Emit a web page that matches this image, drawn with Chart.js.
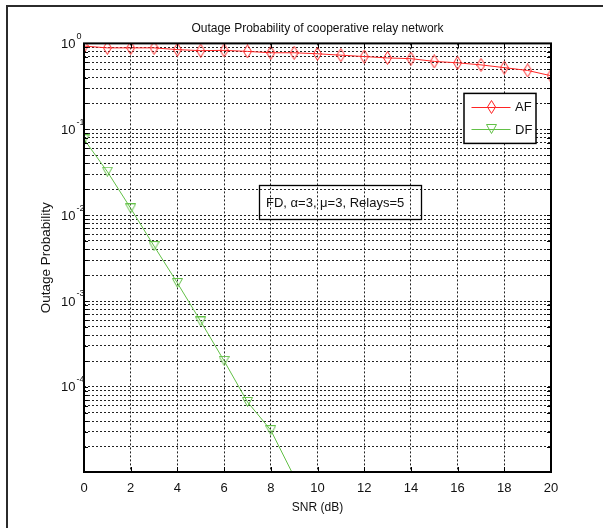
<!DOCTYPE html>
<html>
<head>
<meta charset="utf-8">
<script src="https://cdn.jsdelivr.net/npm/chart.js@4.4.0/dist/chart.umd.min.js"></script>
<style>
  html, body { margin: 0; padding: 0; background: #fff; }
</style>
</head>
<body>
<canvas id="myChart" width="603" height="528"></canvas>
<script>
// values
const snr = [0, 1, 2, 3, 4, 5, 6, 7, 8, 9, 10, 11, 12, 13, 14, 15, 16, 17, 18, 19, 20];
const afValues = [0.93, 0.887, 0.887, 0.887, 0.846, 0.823, 0.83, 0.807, 0.778, 0.778, 0.757,
  0.729, 0.703, 0.677, 0.664, 0.617, 0.594, 0.562, 0.522, 0.484, 0.42];
const dfValues = [0.0764, 0.0321, 0.012, 0.00436, 0.00162, 0.000578, 0.000201, 0.0000668, 0.0000313, 0.000009];
const seriesNames = ['AF', 'DF'];
const yDecades = [1, 0.1, 0.01, 0.001, 0.0001];
const yExponents = ['0', '-1', '-2', '-3', '-4'];
const noteText = 'FD, \u03b1=3, \u03bc=3, Relays=5';
const titleText = 'Outage Probability of cooperative relay network';

const FONT = "'Liberation Sans', Arial, sans-serif";
const afColor = '#ff2424';
const dfColor = '#62c046';

function diamondMarker(color) {
  const c = document.createElement('canvas');
  c.width = 9; c.height = 14;
  const g = c.getContext('2d');
  g.strokeStyle = color;
  g.lineWidth = 1;
  g.beginPath();
  g.moveTo(4.5, 0.5); g.lineTo(8.5, 7); g.lineTo(4.5, 13.5); g.lineTo(0.5, 7);
  g.closePath();
  g.stroke();
  return c;
}

function triangleMarker(color) {
  const c = document.createElement('canvas');
  c.width = 11; c.height = 10;
  const g = c.getContext('2d');
  g.strokeStyle = color;
  g.lineWidth = 1;
  g.beginPath();
  g.moveTo(0.5, 0.5); g.lineTo(10.5, 0.5); g.lineTo(5.5, 9.5);
  g.closePath();
  g.stroke();
  return c;
}

const afMarker = diamondMarker(afColor);
const dfMarker = triangleMarker(dfColor);

function yGridValues(min, max) {
  const out = [];
  for (let e = -6; e <= 0; e++) {
    for (let m = 1; m <= 9; m++) {
      const v = m * Math.pow(10, e);
      if (v >= min * 0.999 && v <= max * 1.0001) out.push({ value: v });
    }
  }
  return out;
}

const decorations = {
  id: 'decorations',
  beforeDraw(chart) {
    const ctx = chart.ctx;
    ctx.save();
    ctx.fillStyle = '#fff';
    ctx.fillRect(0, 0, chart.width, chart.height);
    // figure frame (only left and top visible)
    ctx.fillStyle = '#2b2b2b';
    ctx.fillRect(6, 5, 2, chart.height - 5);
    ctx.fillRect(6, 5, chart.width - 6, 2);
    ctx.restore();
  },
  afterDraw(chart) {
    const ctx = chart.ctx;
    const area = chart.chartArea;
    const xs = chart.scales.x;
    const ys = chart.scales.y;
    ctx.save();

    // inward tick marks
    ctx.strokeStyle = '#000';
    ctx.lineWidth = 1;
    ctx.beginPath();
    xs.ticks.forEach(t => {
      const px = Math.round(xs.getPixelForValue(t.value)) + 0.5;
      ctx.moveTo(px, area.bottom); ctx.lineTo(px, area.bottom - 5);
      ctx.moveTo(px, area.top); ctx.lineTo(px, area.top + 5);
    });
    ys.ticks.forEach(t => {
      const py = Math.round(ys.getPixelForValue(t.value)) + 0.5;
      ctx.moveTo(area.left, py); ctx.lineTo(area.left + 4, py);
      ctx.moveTo(area.right, py); ctx.lineTo(area.right - 4, py);
    });
    ctx.stroke();

    // axes box
    ctx.lineWidth = 2;
    ctx.strokeRect(area.left, area.top, area.right - area.left, area.bottom - area.top);

    // y tick labels with superscript exponents
    ctx.fillStyle = '#111';
    ctx.textAlign = 'left';
    ctx.textBaseline = 'middle';
    yDecades.forEach((v, i) => {
      const py = ys.getPixelForValue(v);
      ctx.font = '13px ' + FONT;
      ctx.fillText('10', 61, py + 1);
      const w = ctx.measureText('10').width;
      ctx.font = '9px ' + FONT;
      ctx.fillText(yExponents[i], 61 + w + 1, py - 7);
    });

    // legend box
    const lx = area.right - 87, ly = area.top + 50, lw = 72, lh = 50;
    ctx.fillStyle = '#fff';
    ctx.fillRect(lx, ly, lw, lh);
    ctx.strokeStyle = '#000';
    ctx.lineWidth = 1.5;
    ctx.strokeRect(lx, ly, lw, lh);
    const rows = [
      { name: seriesNames[0], color: afColor, marker: afMarker, y: ly + 13.5 },
      { name: seriesNames[1], color: dfColor, marker: dfMarker, y: ly + 36 }
    ];
    rows.forEach(r => {
      ctx.strokeStyle = r.color;
      ctx.lineWidth = 1;
      ctx.beginPath();
      ctx.moveTo(lx + 7.5, Math.round(r.y) + 0.5);
      ctx.lineTo(lx + 46.5, Math.round(r.y) + 0.5);
      ctx.stroke();
      ctx.drawImage(r.marker, Math.round(lx + 27 - r.marker.width / 2), Math.round(r.y - r.marker.height / 2));
      ctx.fillStyle = '#111';
      ctx.font = '13px ' + FONT;
      ctx.textAlign = 'left';
      ctx.textBaseline = 'middle';
      ctx.fillText(r.name, lx + 51, r.y + 1);
    });

    // annotation box (no fill)
    ctx.strokeStyle = '#000';
    ctx.lineWidth = 1.3;
    ctx.strokeRect(259.5, 185.5, 162, 34);
    ctx.fillStyle = '#111';
    ctx.font = '13px ' + FONT;
    ctx.textAlign = 'left';
    ctx.textBaseline = 'middle';
    ctx.fillText(noteText, 266, 203);

    ctx.restore();
  }
};

const dashed = [2, 2];

const myChart = new Chart(document.getElementById('myChart').getContext('2d'), {
  type: 'line',
  data: {
    labels: snr,
    datasets: [
      {
        label: seriesNames[0],
        data: afValues.map((v, i) => ({ x: snr[i], y: v })),
        borderColor: afColor,
        borderWidth: 1,
        pointStyle: afMarker,
        tension: 0,
        fill: false
      },
      {
        label: seriesNames[1],
        data: dfValues.map((v, i) => ({ x: snr[i], y: v })),
        borderColor: dfColor,
        borderWidth: 1,
        pointStyle: dfMarker,
        tension: 0,
        fill: false
      }
    ]
  },
  options: {
    responsive: false,
    animation: false,
    devicePixelRatio: 1,
    layout: { padding: { left: 0, right: 52, top: 0, bottom: 0 } },
    plugins: {
      legend: { display: false },
      tooltip: { enabled: false },
      title: {
        display: true,
        text: titleText,
        fullSize: false,
        color: '#111',
        font: { size: 12, family: FONT, weight: 'normal' },
        padding: { top: 21, bottom: 8 }
      }
    },
    scales: {
      x: {
        type: 'linear',
        min: 0,
        max: 20,
        ticks: { stepSize: 2, color: '#111', font: { size: 13, family: FONT }, padding: 9, maxRotation: 0 },
        grid: { color: '#222', lineWidth: 1, drawTicks: false },
        border: { display: false, dash: dashed },
        title: {
          display: true,
          text: 'SNR (dB)',
          color: '#111',
          font: { size: 12, family: FONT },
          padding: { top: 0, bottom: 13 }
        },
        afterFit: s => { s.height = 56; }
      },
      y: {
        type: 'logarithmic',
        min: 1.02e-5,
        max: 1,
        afterBuildTicks: s => { s.ticks = yGridValues(s.min, s.max); },
        ticks: { callback: () => '', autoSkip: false },
        grid: { color: '#222', lineWidth: 1, drawTicks: false },
        border: { display: false, dash: dashed },
        title: {
          display: true,
          text: 'Outage Probability',
          color: '#111',
          font: { size: 13.5, family: FONT },
          padding: { top: 38, bottom: 0 }
        },
        afterFit: s => { s.width = 84; }
      }
    }
  },
  plugins: [decorations]
});
</script>
</body>
</html>
